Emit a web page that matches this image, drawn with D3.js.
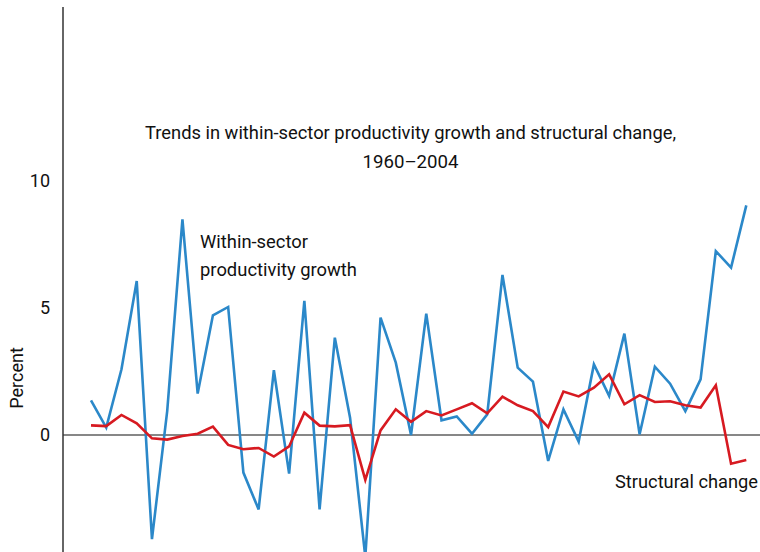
<!DOCTYPE html>
<html>
<head>
<meta charset="utf-8">
<script src="https://cdn.jsdelivr.net/npm/d3@7"></script>
<style>
  body { margin: 0; background: #fff; }
  svg text { font-family: "Liberation Sans Narrow", "Roboto", "Liberation Sans", sans-serif; fill: #111; }
</style>
</head>
<body>
<script>
// years (growth rates, first year after 1960)
const years = d3.range(1961, 2005);

const withinSector = [
  1.36, 0.29, 2.59, 6.06, -4.1, 0.94, 8.49, 1.63, 4.71, 5.04,
  -1.48, -2.93, 2.55, -1.52, 5.28, -2.93, 3.83, 0.68, -4.8, 4.62,
  2.85, 0.0, 4.78, 0.58, 0.73, 0.05, 0.81, 6.3, 2.65, 2.1,
  -1.02, 1.01, -0.26, 2.78, 1.54, 3.99, 0.03, 2.69, 2.02, 0.94,
  2.19, 7.24, 6.59, 9.04
];

const structural = [
  0.38, 0.35, 0.79, 0.46, -0.13, -0.18, -0.04, 0.05, 0.33, -0.39,
  -0.56, -0.51, -0.85, -0.45, 0.88, 0.37, 0.34, 0.39, -1.77, 0.18,
  1.01, 0.52, 0.94, 0.77, 1.01, 1.25, 0.85, 1.51, 1.17, 0.94,
  0.31, 1.71, 1.52, 1.86, 2.39, 1.21, 1.57, 1.30, 1.33, 1.17,
  1.08, 1.96, -1.13, -0.98
];

const yTicks = [0, 5, 10];

const W = 760, H = 552;
const svg = d3.select("body").append("svg")
  .attr("width", W).attr("height", H);

const x = d3.scaleLinear().domain([1961, 2004]).range([91, 746.3]);
const y = d3.scaleLinear().domain([-5, 17]).range([435 + 5 * 25.4, 435 - 17 * 25.4]);
const axisX = 63;

// zero line
svg.append("line")
  .attr("x1", axisX).attr("x2", W)
  .attr("y1", y(0)).attr("y2", y(0))
  .attr("stroke", "#111").attr("stroke-width", 1.2);

// y axis
const yAxis = d3.axisLeft(y).tickValues(yTicks).tickSize(0).tickPadding(13);
const gy = svg.append("g").attr("transform", `translate(${axisX},0)`).call(yAxis);
gy.select(".domain").remove();
gy.selectAll("text").style("font-size", "18px").attr("fill", "#111");
svg.append("line")
  .attr("x1", axisX).attr("x2", axisX)
  .attr("y1", 7).attr("y2", H)
  .attr("stroke", "#333").attr("stroke-width", 1.5);

svg.append("text")
  .attr("transform", `translate(23,${378}) rotate(-90)`)
  .attr("text-anchor", "middle")
  .style("font-size", "18px")
  .text("Percent");

const clip = svg.append("clipPath").attr("id", "plot")
  .append("rect").attr("x", axisX).attr("y", 0).attr("width", W - axisX).attr("height", H);

const line = d3.line()
  .x((d, i) => x(years[i]))
  .y(d => y(d));

svg.append("path")
  .datum(withinSector)
  .attr("clip-path", "url(#plot)")
  .attr("fill", "none")
  .attr("stroke", "#2b88c9")
  .attr("stroke-width", 2.6)
  .attr("stroke-linejoin", "miter")
  .attr("d", line);

svg.append("path")
  .datum(structural)
  .attr("clip-path", "url(#plot)")
  .attr("fill", "none")
  .attr("stroke", "#d71a21")
  .attr("stroke-width", 2.6)
  .attr("d", line);

// title
const title = [
  { t: "Trends in within-sector productivity growth and structural change,", y: 139, w: 531 },
  { t: "1960\u20132004", y: 168, w: 96 }
];
svg.selectAll("text.title").data(title).join("text")
  .attr("class", "title")
  .attr("x", 410.5).attr("y", d => d.y)
  .attr("text-anchor", "middle")
  .attr("textLength", d => d.w)
  .attr("lengthAdjust", "spacingAndGlyphs")
  .style("font-size", "18px")
  .text(d => d.t);

// series labels
const labels = [
  { t: "Within-sector", x: 200, y: 248, w: 108 },
  { t: "productivity growth", x: 200, y: 276, w: 157 },
  { t: "Structural change", x: 615, y: 488, w: 143 }
];
svg.selectAll("text.lab").data(labels).join("text")
  .attr("class", "lab")
  .attr("x", d => d.x).attr("y", d => d.y)
  .attr("textLength", d => d.w)
  .attr("lengthAdjust", "spacingAndGlyphs")
  .style("font-size", "18px")
  .text(d => d.t);
</script>
</body>
</html>
